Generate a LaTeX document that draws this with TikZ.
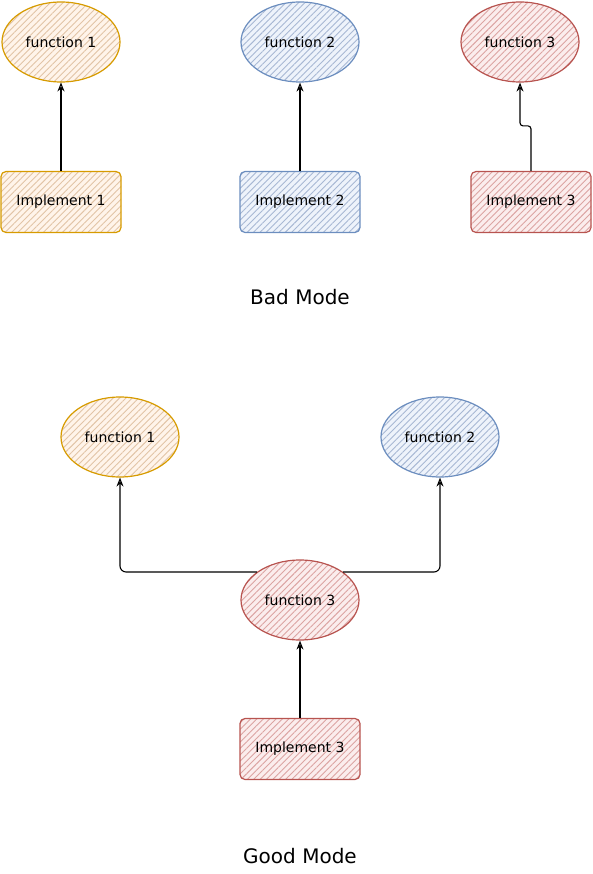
\documentclass[tikz,border=0pt]{standalone}
\usepackage{fontspec}
\setmainfont{DejaVu Sans}
\usepackage{tikz}
\usetikzlibrary{arrows.meta,patterns.meta,shapes.geometric}
\definecolor{orline}{HTML}{D79B00}
\definecolor{orfill}{HTML}{FFF4EA}
\definecolor{orhatch}{HTML}{E2C4A6}
\definecolor{blline}{HTML}{6C8EBF}
\definecolor{blfill}{HTML}{EEF3FB}
\definecolor{blhatch}{HTML}{A8B8D4}
\definecolor{rdline}{HTML}{B85450}
\definecolor{rdfill}{HTML}{FBEDED}
\definecolor{rdhatch}{HTML}{DCA4A2}

\begin{document}
\begin{tikzpicture}[x=1pt,y=-1pt,
  func/.style={ellipse,minimum width=118pt,minimum height=80pt,line width=1.2pt,font=\fontsize{14}{16}\selectfont},
  impl/.style={rectangle,rounded corners=5pt,minimum width=120pt,minimum height=61pt,line width=1.2pt,font=\fontsize{14}{16}\selectfont},
  hatch/.style={pattern={Lines[angle=45,distance=4.5pt,line width=0.9pt]}},
  orng/.style={draw=orline,preaction={fill=orfill},hatch,pattern color=orhatch},
  blu/.style={draw=blline,preaction={fill=blfill},hatch,pattern color=blhatch},
  rd/.style={draw=rdline,preaction={fill=rdfill},hatch,pattern color=rdhatch},
  link/.style={-{Stealth[open,length=9pt,width=7pt]},line width=1.1pt,black},
  caption/.style={font=\fontsize{20}{24}\selectfont}]
\useasboundingbox (0,0) rectangle (593,874);
% bad mode
\node[func,orng] (bf1) at (61,42) {function 1};
\node[func,blu] (bf2) at (300,42) {function 2};
\node[func,rd] (bf3) at (520,42) {function 3};
\node[impl,orng] (bi1) at (61,202) {Implement 1};
\node[impl,blu] (bi2) at (300,202) {Implement 2};
\node[impl,rd] (bi3) at (531,202) {Implement 3};
\draw[link] (bi1) -- (bf1);
\draw[link] (bi2) -- (bf2);
\draw[link,rounded corners=3pt] (bi3.north) -- ++(0,-45) -| (bf3.south);
\node[caption] (bad) at (300,297) {Bad Mode};
% good mode
\node[func,orng] (gf1) at (120,437) {function 1};
\node[func,blu] (gf2) at (440,437) {function 2};
\node[func,rd] (gf3) at (300,600) {function 3};
\node[impl,rd] (gi3) at (300,749) {Implement 3};
\draw[link] (gi3) -- (gf3);
\draw[link,rounded corners=6pt] (gf3.147) -| (gf1.south);
\draw[link,rounded corners=6pt] (gf3.33) -| (gf2.south);
\node[caption] (good) at (300,856) {Good Mode};
\end{tikzpicture}
\end{document}
